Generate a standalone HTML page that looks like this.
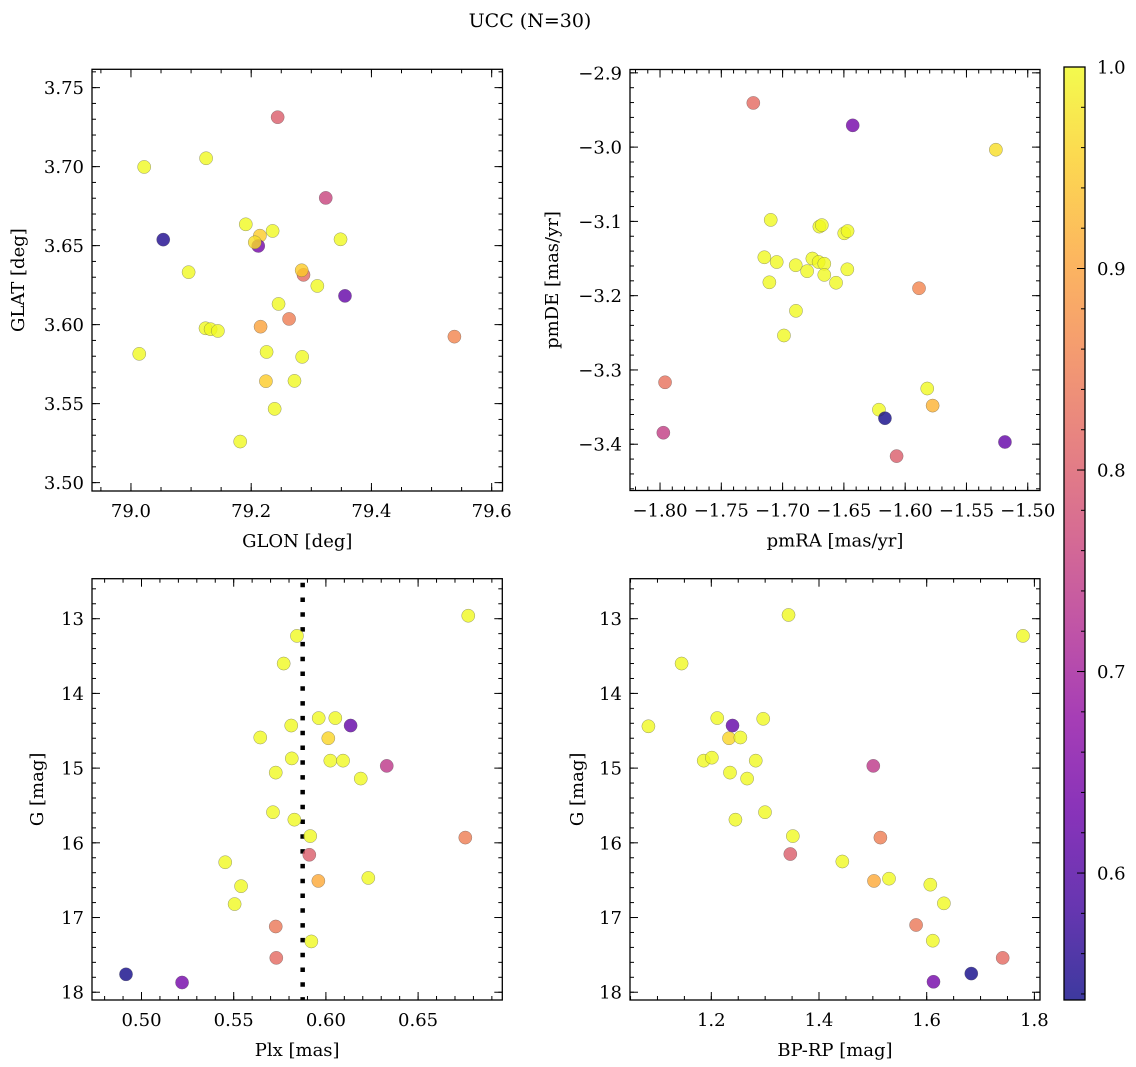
<!DOCTYPE html>
<html><head><meta charset="utf-8">
<style>
html,body{margin:0;padding:0;background:#fff;}
svg{display:block;font-family:"DejaVu Serif","Liberation Serif",serif;}
</style></head>
<body>
<svg id="fig" width="1136" height="1067" viewBox="0 0 1136 1067" xmlns="http://www.w3.org/2000/svg">
<defs>
<linearGradient id="cbgrad" x1="0" y1="1" x2="0" y2="0">
<stop offset="0" stop-color="#0d0887"/><stop offset="0.1" stop-color="#41049d"/><stop offset="0.2" stop-color="#6a00a8"/><stop offset="0.3" stop-color="#8f0da4"/><stop offset="0.4" stop-color="#b12a90"/><stop offset="0.5" stop-color="#cc4778"/><stop offset="0.6" stop-color="#e16462"/><stop offset="0.7" stop-color="#f2844b"/><stop offset="0.8" stop-color="#fca636"/><stop offset="0.9" stop-color="#fcce25"/><stop offset="1" stop-color="#f0f921"/>
</linearGradient>
</defs>
<text x="530" y="27" font-size="19" text-anchor="middle">UCC (N=30)</text>
</svg>
<script>
// ---- data arrays ----
const glon = [79.244,79.125,79.022,79.324,79.191,79.2356,79.2145,79.2117,79.206,79.0537,79.3486,79.0959,79.287,79.284,79.310,79.356,79.2455,79.263,79.2156,79.124,79.1325,79.1446,79.538,79.0138,79.2256,79.2848,79.2245,79.272,79.239,79.1817];
const glat = [3.7313,3.7053,3.6998,3.6802,3.6635,3.6593,3.6563,3.6498,3.6521,3.6538,3.654,3.6332,3.6315,3.6344,3.6245,3.6182,3.6131,3.6036,3.5987,3.5977,3.5971,3.596,3.5924,3.5815,3.5827,3.5796,3.5642,3.5644,3.5467,3.5260];
const probTL = [0.80,1,1,0.76,1,1,0.95,0.64,0.97,0.55,1,1,0.82,0.95,1,0.62,1,0.85,0.90,1,1,1,0.86,1,1,1,0.95,1,1,1];

const pmra = [-1.7239,-1.6428,-1.526,-1.7097,-1.670,-1.668,-1.6497,-1.647,-1.7149,-1.7048,-1.6893,-1.680,-1.6757,-1.6706,-1.666,-1.666,-1.6472,-1.6564,-1.7108,-1.5887,-1.6891,-1.6989,-1.7959,-1.582,-1.5776,-1.6214,-1.6165,-1.7973,-1.607,-1.5186];
const pmde = [-2.9405,-2.9707,-3.0035,-3.098,-3.107,-3.105,-3.116,-3.113,-3.1483,-3.1547,-3.159,-3.167,-3.150,-3.1547,-3.157,-3.172,-3.1645,-3.1826,-3.182,-3.190,-3.2204,-3.2536,-3.3166,-3.325,-3.348,-3.3535,-3.365,-3.3845,-3.416,-3.397];
const probTR = [0.82,0.64,0.97,1,1,1,1,1,1,1,1,1,1,1,1,1,1,1,1,0.86,1,1,0.83,1,0.92,1,0.54,0.75,0.80,0.62];

const plx = [0.6772,0.5843,0.5771,0.5961,0.6051,0.6134,0.5812,0.5644,0.6013,0.5815,0.6024,0.6093,0.6330,0.5728,0.6189,0.5713,0.5829,0.5915,0.6756,0.5910,0.5454,0.6230,0.5959,0.5540,0.5505,0.5728,0.5921,0.5731,0.4916,0.5220];
const gmagBL = [12.96,13.23,13.60,14.33,14.33,14.43,14.43,14.59,14.60,14.87,14.90,14.90,14.97,15.06,15.14,15.59,15.69,15.91,15.93,16.16,16.26,16.47,16.51,16.58,16.82,17.12,17.32,17.54,17.76,17.87];
const probBL = [1,1,1,1,1,0.62,1,1,0.96,1,1,1,0.74,1,1,1,1,1,0.85,0.80,1,1,0.91,1,1,0.84,1,0.82,0.54,0.64];
const plxMedian = 0.5874;

const bprp = [1.3434,1.7788,1.1448,1.0832,1.2110,1.2964,1.2394,1.2329,1.254,1.1859,1.201,1.2825,1.5008,1.2347,1.2665,1.2997,1.2448,1.3514,1.514,1.3467,1.4433,1.5021,1.530,1.6067,1.6319,1.5803,1.6113,1.7411,1.6828,1.6126];
const gmagBR = [12.95,13.23,13.60,14.44,14.33,14.34,14.43,14.60,14.59,14.90,14.86,14.90,14.97,15.06,15.14,15.59,15.69,15.91,15.93,16.15,16.25,16.51,16.48,16.56,16.81,17.10,17.31,17.54,17.75,17.86];
const probBR = [1,1,1,1,1,1,0.62,0.96,1,1,1,1,0.74,1,1,1,1,1,0.85,0.80,1,0.91,1,1,1,0.84,1,0.82,0.54,0.64];

const cbTicks = [0.6,0.7,0.8,0.9,1.0];
const tlXTicks = [79.0,79.2,79.4,79.6], tlYTicks = [3.50,3.55,3.60,3.65,3.70,3.75];
const trXTicks = [-1.80,-1.75,-1.70,-1.65,-1.60,-1.55,-1.50], trYTicks = [-2.9,-3.0,-3.1,-3.2,-3.3,-3.4];
const blXTicks = [0.50,0.55,0.60,0.65], gTicks = [13,14,15,16,17,18];
const brXTicks = [1.2,1.4,1.6,1.8];

const VMIN = 0.537, VMAX = 1.0;
const FS = 18;
const NS = "http://www.w3.org/2000/svg";
const svg = document.getElementById('fig');
const stops = ["#0d0887","#41049d","#6a00a8","#8f0da4","#b12a90","#cc4778","#e16462","#f2844b","#fca636","#fcce25","#f0f921"];
function hex(h){return [parseInt(h.substr(1,2),16),parseInt(h.substr(3,2),16),parseInt(h.substr(5,2),16)];}
function plasma(v){
  let t=(v-VMIN)/(VMAX-VMIN); t=Math.max(0,Math.min(1,t));
  const f=t*10, i=Math.min(9,Math.floor(f)), u=f-i;
  const a=hex(stops[i]), b=hex(stops[i+1]);
  return 'rgb('+a.map((c,k)=>Math.round(c+(b[k]-c)*u)).join(',')+')';
}
function el(tag, attrs, parent){
  const e=document.createElementNS(NS,tag);
  for(const k in attrs) e.setAttribute(k,attrs[k]);
  (parent||svg).appendChild(e); return e;
}
function fmt(v,d){ let s=v.toFixed(d); return s.replace('-','\u2212'); }

function panel(cfg){
  const g=el('g',{});
  
  
  const L=cfg.x, T=cfg.y, W=cfg.w, H=cfg.h;
  const sx=v=>L+(v-cfg.xmin)/(cfg.xmax-cfg.xmin)*W;
  const sy=cfg.invert ? (v=>T+(v-cfg.ymin)/(cfg.ymax-cfg.ymin)*H) : (v=>T+H-(v-cfg.ymin)/(cfg.ymax-cfg.ymin)*H);
  const ticks=el('g',{stroke:'#000','stroke-width':1},g);
  
  
  const xs=Math.ceil(cfg.xmin/cfg.xminor), xe=Math.floor(cfg.xmax/cfg.xminor);
  for(let k=xs;k<=xe;k++){const px=sx(k*cfg.xminor);
    el('line',{x1:px,y1:T+H,x2:px,y2:T+H-4},ticks); el('line',{x1:px,y1:T,x2:px,y2:T+4},ticks);}
  const ys=Math.ceil(Math.min(cfg.ymin,cfg.ymax)/cfg.yminor), ye=Math.floor(Math.max(cfg.ymin,cfg.ymax)/cfg.yminor);
  for(let k=ys;k<=ye;k++){const py=sy(k*cfg.yminor);
    el('line',{x1:L,y1:py,x2:L+4,y2:py},ticks); el('line',{x1:L+W,y1:py,x2:L+W-4,y2:py},ticks);}
  cfg.xticks.forEach(v=>{const px=sx(v);
    el('line',{x1:px,y1:T+H,x2:px,y2:T+H-8},ticks); el('line',{x1:px,y1:T,x2:px,y2:T+8},ticks);
    const t=el('text',{x:px,y:T+H+26,'font-size':FS,'text-anchor':'middle',stroke:'none'},g);
    
    
    t.textContent=fmt(v,cfg.xdec);});
  cfg.yticks.forEach(v=>{const py=sy(v);
    el('line',{x1:L,y1:py,x2:L+8,y2:py},ticks); el('line',{x1:L+W,y1:py,x2:L+W-8,y2:py},ticks);
    const t=el('text',{x:L-8,y:py+6.5,'font-size':FS,'text-anchor':'end'},g);
    
    
    t.textContent=fmt(v,cfg.ydec);});
  const xl=el('text',{x:L+W/2,y:T+H+56,'font-size':FS,'text-anchor':'middle'},g);
  
  
  xl.textContent=cfg.xlabel;
  const yl=el('text',{x:cfg.ylabX,y:T+H/2,'font-size':FS,'text-anchor':'middle',transform:'rotate(-90 '+cfg.ylabX+' '+(T+H/2)+')'},g);
  
  
  yl.textContent=cfg.ylabel;
  if(cfg.vline!==undefined){
    const ln=el('line',{x1:sx(cfg.vline),x2:sx(cfg.vline),y1:T+4,y2:T+H,stroke:'#000','stroke-width':4.5,'stroke-dasharray':'4.5 10.3'},g);
    
    
  }
  const pts=el('g',{},g);
  
  
  cfg.xs.forEach((v,i)=>{
    const c=el('circle',{cx:sx(v),cy:sy(cfg.ys[i]),r:6.6,fill:plasma(cfg.cs[i]),'fill-opacity':0.8,stroke:'#555','stroke-opacity':0.6,'stroke-width':0.5},pts);
    
    
  });
  const fr=el('rect',{x:L,y:T,width:W,height:H,fill:'none',stroke:'#000','stroke-width':1.3},g);
  
  
}

panel({name:'glon-glat-panel',x:92,y:69.3,w:410.5,h:421.7,xmin:78.9352,xmax:79.618,ymin:3.4947,ymax:3.7616,
  xminor:0.05,yminor:0.01,xticks:tlXTicks,yticks:tlYTicks,xdec:1,ydec:2,xlabel:'GLON [deg]',ylabel:'GLAT [deg]',ylabX:24,
  xs:glon,ys:glat,cs:probTL});
panel({name:'pm-panel',x:630,y:69.5,w:410,h:421,xmin:-1.8245,xmax:-1.4900,ymin:-3.4623,ymax:-2.8955,
  xminor:0.01,yminor:0.02,xticks:trXTicks,yticks:trYTicks,xdec:2,ydec:1,xlabel:'pmRA [mas/yr]',ylabel:'pmDE [mas/yr]',ylabX:558,
  xs:pmra,ys:pmde,cs:probTR});
panel({name:'plx-g-panel',x:92,y:578.7,w:410.3,h:421.3,xmin:0.47316,xmax:0.69566,ymin:12.4645,ymax:18.104,invert:true,
  xminor:0.01,yminor:0.2,xticks:blXTicks,yticks:gTicks,xdec:2,ydec:0,xlabel:'Plx [mas]',ylabel:'G [mag]',ylabX:43,
  xs:plx,ys:gmagBL,cs:probBL,vline:plxMedian});
panel({name:'cmd-panel',x:630,y:578.7,w:410,h:421.3,xmin:1.049,xmax:1.8104,ymin:12.4645,ymax:18.104,invert:true,
  xminor:0.05,yminor:0.2,xticks:brXTicks,yticks:gTicks,xdec:1,ydec:0,xlabel:'BP-RP [mag]',ylabel:'G [mag]',ylabX:583,
  xs:bprp,ys:gmagBR,cs:probBR});

(function(){
  const L=1064,T=67,W=21,H=933;
  const g=el('g',{});
  
  
  const sy=v=>T+H-(v-VMIN)/(VMAX-VMIN)*H;
  const r=el('rect',{x:L,y:T,width:W,height:H,fill:'url(#cbgrad)','fill-opacity':0.8},g);
  
  
  for(let k=Math.ceil(VMIN/0.02);k<=Math.floor(VMAX/0.02+1e-6);k++){const py=sy(k*0.02);
    el('line',{x1:L+W,y1:py,x2:L+W-4,y2:py,stroke:'#000','stroke-width':1},g);}
  cbTicks.forEach(v=>{const py=sy(v);
    el('line',{x1:L+W,y1:py,x2:L+W-8,y2:py,stroke:'#000','stroke-width':1},g);
    const t=el('text',{x:L+W+12,y:py+6.5,'font-size':FS},g);
    
    
    t.textContent=v.toFixed(1);});
  const fr=el('rect',{x:L,y:T,width:W,height:H,fill:'none',stroke:'#000','stroke-width':1.3},g);
  
  
})();
</script>
</body></html>
